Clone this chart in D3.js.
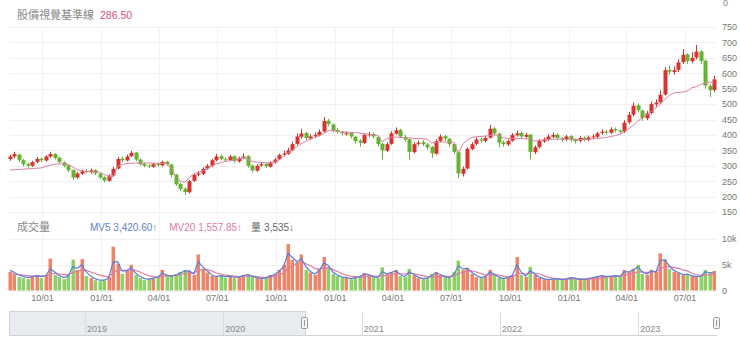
<!DOCTYPE html>
<html>
<head>
<meta charset="utf-8">
<script src="https://cdn.jsdelivr.net/npm/d3@7"></script>
<style>
  body { margin: 0; background: #fff; }
  svg { display: block; font-family: "Liberation Sans", Arial, sans-serif; }
</style>
</head>
<body>
<div id="chart"></div>
<script>
// weekly data, Aug 2020 - Aug 2023
var weeks = d3.timeMonday.range(new Date(2020, 7, 10), new Date(2023, 7, 15));

var open = [322,330,336,318,306,300,312,323,317,330,338,326,311,301,286,262,274,283,279,286,274,263,251,268,291,323,317,331,343,320,
  306,301,297,306,301,313,304,271,241,226,214,251,271,274,291,300,318,331,321,319,331,314,326,331,301,284,301,306,297,311,
  321,336,339,351,371,394,406,389,396,399,411,446,434,416,409,404,406,394,381,374,401,403,394,371,349,371,404,416,394,386,
  344,371,376,369,361,339,381,396,387,371,344,274,291,354,371,386,381,391,421,404,376,369,381,399,406,394,401,344,361,379,
  386,394,401,389,386,396,384,381,391,384,393,394,406,411,407,419,414,411,441,466,496,479,454,471,499,506,531,611,604,611,
  636,661,639,651,671,641,559,546];
var high = [336,345,340,322,310,316,328,327,334,345,341,329,314,304,288,280,288,290,291,289,277,266,272,296,328,330,336,348,345,324,
  310,305,310,310,317,316,306,274,245,230,254,276,282,295,306,322,338,336,327,336,334,330,340,334,304,305,310,310,315,326,
  340,348,358,378,405,420,410,402,408,418,458,452,437,422,414,412,410,397,386,406,410,408,397,374,376,412,424,420,400,388,
  376,382,384,374,364,386,402,400,390,374,346,298,360,376,392,392,398,432,425,407,382,386,406,414,410,406,403,366,386,392,
  402,408,405,394,400,400,389,396,395,398,402,410,418,416,425,424,418,448,475,505,502,482,478,508,515,545,620,625,622,645,
  678,665,668,692,675,645,565,592];
var low = [316,325,312,298,294,296,308,312,313,326,320,306,295,280,254,258,270,275,274,270,256,246,248,265,288,312,314,328,315,300,
  295,292,293,297,298,300,262,234,218,205,210,247,266,270,287,296,314,317,314,316,310,310,322,294,278,280,296,292,294,307,
  318,331,335,347,367,388,383,384,390,395,408,428,408,404,398,398,388,372,362,371,394,388,362,320,345,368,400,390,378,319,
  340,366,364,352,325,336,376,380,362,338,260,265,288,350,366,375,376,388,398,360,362,364,378,394,388,388,320,338,356,374,
  380,389,384,378,380,378,372,376,379,379,387,389,400,401,402,408,403,406,436,460,472,445,448,466,492,500,528,596,595,604,
  630,630,632,645,630,550,523,540];
var close = [330,338,318,305,300,312,322,318,330,338,325,312,300,285,262,275,282,280,285,275,262,252,268,290,322,318,330,342,320,305,
  300,298,305,302,312,305,270,240,225,215,250,270,275,290,300,318,330,322,320,330,315,325,330,300,285,300,305,298,310,320,
  335,340,350,370,395,405,390,395,400,410,445,435,415,410,405,405,395,380,375,400,402,395,370,350,370,405,415,395,385,345,
  370,375,370,360,340,380,395,388,370,345,275,290,355,370,385,382,390,420,405,375,370,380,400,405,395,400,345,360,380,385,
  395,400,390,385,395,385,380,390,385,392,395,405,410,408,418,415,410,440,465,495,480,455,470,500,505,530,610,605,610,635,
  660,640,650,670,640,560,545,580];
// 基準線
var baseline = [286,287,288,289,290,291,292,293,298,302,305,306,306,305,296,287,284,282,281,280,279,272,266,264,298,304,307,308,309,309,
  309,309,308,308,308,307,290,265,250,246,262,274,279,282,290,300,306,310,314,316,318,322,326,320,314,312,311,310,309,312,
  320,330,342,352,362,372,380,386,392,398,405,414,414,412,410,409,408,407,406,404,402,400,399,378,388,393,393,392,391,390,
  389,388,388,387,374,376,377,377,377,376,342,370,384,392,394,395,396,398,400,399,390,389,388,388,388,387,386,380,382,384,
  385,386,386,386,386,386,385,385,385,386,387,388,390,392,395,398,402,410,420,432,445,455,465,476,487,500,515,528,536,538,
  539,542,553,556,564,568,571,572];
// volume (thousand shares)
var volume = [3.6,3.2,2.6,2.4,2.2,2.8,3.0,2.4,3.0,6.2,3.0,2.6,2.2,3.0,6.0,4.0,6.1,2.8,2.4,2.0,
  1.8,2.0,2.6,8.5,5.2,3.2,3.8,5.0,3.0,2.4,2.0,2.2,2.4,2.6,4.0,2.8,2.6,3.2,3.6,4.0,
  3.8,3.0,7.0,4.2,3.5,2.8,2.6,3.0,2.5,2.8,2.4,2.6,3.0,3.2,2.6,2.4,2.2,2.4,3.0,3.2,
  4.0,5.0,9.0,6.0,5.5,7.0,4.0,3.5,3.0,4.2,6.5,4.5,3.2,2.8,2.5,2.4,2.2,2.6,2.8,3.4,
  3.0,2.6,2.4,4.5,3.0,3.6,4.0,2.8,2.6,4.2,3.0,2.4,2.2,2.4,3.2,3.6,3.0,2.6,2.4,3.6,
  5.8,4.0,4.4,3.2,2.6,2.4,2.8,4.0,3.0,2.4,2.2,2.6,3.0,6.5,3.0,2.6,4.6,3.0,2.4,2.2,
  2.0,2.2,2.4,2.0,2.2,2.6,2.4,2.0,2.2,2.4,2.6,2.8,3.0,2.6,2.8,3.0,2.8,4.0,3.6,4.2,
  5.0,3.2,3.0,4.0,3.6,7.2,6.0,4.2,3.6,3.4,3.0,3.2,2.8,2.6,2.8,4.0,3.5,3.8];
var mv5 = [3.9,3.5,3.0,2.7,2.5,2.7,2.9,2.7,2.9,4.2,3.6,2.9,2.5,2.8,4.6,4.3,5.0,3.6,2.8,2.3,
  2.0,2.0,2.4,5.5,5.6,3.8,3.8,4.4,3.4,2.7,2.3,2.2,2.4,2.6,3.4,3.0,2.7,3.0,3.4,3.8,
  3.8,3.2,5.6,4.6,3.8,3.0,2.7,2.9,2.7,2.8,2.6,2.6,2.9,3.1,2.8,2.5,2.3,2.4,2.8,3.1,
  3.7,4.6,7.2,6.4,5.6,6.2,4.6,3.7,3.2,3.9,5.4,4.8,3.6,3.0,2.6,2.5,2.3,2.5,2.7,3.2,
  3.1,2.7,2.5,3.7,3.2,3.5,3.8,3.1,2.7,3.6,3.2,2.6,2.3,2.4,2.9,3.4,3.1,2.7,2.5,3.2,
  4.8,4.2,4.3,3.5,2.9,2.5,2.7,3.6,3.2,2.6,2.3,2.5,2.9,5.0,3.6,2.8,3.9,3.2,2.6,2.3,
  2.1,2.2,2.3,2.1,2.2,2.5,2.4,2.1,2.2,2.3,2.5,2.7,2.9,2.7,2.8,2.9,2.8,3.6,3.6,4.0,
  4.6,3.6,3.2,3.8,3.6,5.8,6.0,4.8,3.9,3.5,3.1,3.2,2.9,2.7,2.8,3.6,3.5,3.4];
var mv20 = [3.2,3.2,3.1,3.0,2.9,2.8,2.8,2.8,2.9,3.2,3.3,3.2,3.1,3.1,3.5,3.7,4.0,3.9,3.6,3.3,
  3.0,2.8,2.7,3.4,3.9,3.9,3.9,4.1,3.9,3.6,3.2,2.9,2.7,2.6,2.8,2.9,2.9,3.0,3.1,3.3,
  3.4,3.4,4.0,4.1,4.0,3.8,3.4,3.2,3.0,2.9,2.8,2.7,2.7,2.8,2.8,2.7,2.6,2.5,2.6,2.7,
  3.0,3.4,4.3,4.8,5.2,5.6,5.2,4.8,4.3,4.1,4.4,4.4,4.1,3.7,3.3,3.0,2.8,2.7,2.6,2.7,
  2.8,2.8,2.7,2.9,3.0,3.1,3.3,3.3,3.2,3.3,3.3,3.1,2.9,2.7,2.6,2.7,2.8,2.8,2.7,2.8,
  3.3,3.5,3.8,3.8,3.6,3.3,3.0,3.1,3.1,3.0,2.8,2.6,2.6,3.2,3.3,3.2,3.4,3.4,3.2,2.9,
  2.6,2.4,2.3,2.2,2.2,2.2,2.3,2.3,2.2,2.2,2.3,2.4,2.5,2.6,2.7,2.7,2.8,3.0,3.1,3.3,
  3.6,3.6,3.5,3.6,3.6,4.2,4.6,4.6,4.5,4.3,4.0,3.8,3.4,3.1,2.9,3.0,3.1,3.2];

var priceTicks = [150,200,250,300,350,400,450,500,550,600,650,700,750];
var volTicks = [0, 5, 10];
var quarterTicks = [new Date(2020,9,1), new Date(2021,0,1), new Date(2021,3,1), new Date(2021,6,1),
  new Date(2021,9,1), new Date(2022,0,1), new Date(2022,3,1), new Date(2022,6,1),
  new Date(2022,9,1), new Date(2023,0,1), new Date(2023,3,1), new Date(2023,6,1)];
var navYears = [new Date(2019,0,1), new Date(2020,0,1), new Date(2021,0,1), new Date(2022,0,1), new Date(2023,0,1)];

var width = 740, height = 353;
var upColor = "#d5352e", downColor = "#66b232";
var upVol = "#f08468", downVol = "#8dd065";

var svg = d3.select("#chart").append("svg")
    .attr("width", width)
    .attr("height", height);

var mid = function(d) { return d3.timeDay.offset(d, 2); };

var x = d3.scaleTime()
    .domain([new Date(2020,7,9), new Date(2023,7,19)])
    .range([8, 716]);

var y = d3.scaleLinear()
    .domain([150, 750])
    .range([212, 27]);

var yv = d3.scaleLinear()
    .domain([0, 10])
    .range([290.5, 239]);

// gridlines
svg.append("g").selectAll("line")
  .data(priceTicks)
  .enter().append("line")
    .attr("x1", 10).attr("x2", 716)
    .attr("y1", function(d) { return Math.round(y(d)) + 0.5; })
    .attr("y2", function(d) { return Math.round(y(d)) + 0.5; })
    .attr("stroke", "#f0f0f0");
svg.append("g").selectAll("line")
  .data(volTicks)
  .enter().append("line")
    .attr("x1", 10).attr("x2", 716)
    .attr("y1", function(d) { return Math.round(yv(d)) + 0.5; })
    .attr("y2", function(d) { return Math.round(yv(d)) + 0.5; })
    .attr("stroke", "#f0f0f0");
svg.append("g").selectAll("line")
  .data(quarterTicks)
  .enter().append("line")
    .attr("x1", function(d) { return Math.round(x(d)) + 0.5; })
    .attr("x2", function(d) { return Math.round(x(d)) + 0.5; })
    .attr("y1", 27).attr("y2", 291)
    .attr("stroke", "#f3f3f3");

// candles
var idx = d3.range(weeks.length);
var candles = svg.append("g");
candles.selectAll("line")
  .data(idx)
  .enter().append("line")
    .attr("x1", function(i) { return Math.round(x(mid(weeks[i]))) + 0.5; })
    .attr("x2", function(i) { return Math.round(x(mid(weeks[i]))) + 0.5; })
    .attr("y1", function(i) { return y(high[i]); })
    .attr("y2", function(i) { return y(low[i]); })
    .attr("stroke", function(i) { return close[i] >= open[i] ? upColor : downColor; });
candles.selectAll("rect")
  .data(idx)
  .enter().append("rect")
    .attr("x", function(i) { return Math.round(x(mid(weeks[i]))) - 1.5; })
    .attr("width", 4)
    .attr("y", function(i) { return y(Math.max(open[i], close[i])); })
    .attr("height", function(i) { return Math.max(1, Math.abs(y(open[i]) - y(close[i]))); })
    .attr("fill", function(i) { return close[i] >= open[i] ? upColor : downColor; });

// baseline
svg.append("path")
  .datum(idx)
  .attr("fill", "none")
  .attr("stroke", "#dc7fa3")
  .attr("stroke-width", 1)
  .attr("d", d3.line()
    .x(function(i) { return x(mid(weeks[i])); })
    .y(function(i) { return y(baseline[i]); }));

// volume
svg.append("g").selectAll("rect")
  .data(idx)
  .enter().append("rect")
    .attr("x", function(i) { return Math.round(x(mid(weeks[i]))) - 1.5; })
    .attr("width", 3.5)
    .attr("y", function(i) { return yv(volume[i]); })
    .attr("height", function(i) { return yv(0) - yv(volume[i]); })
    .attr("fill", function(i) { return close[i] >= open[i] ? upVol : downVol; });

svg.append("path")
  .datum(idx)
  .attr("fill", "none")
  .attr("stroke", "#e07aa6")
  .attr("stroke-width", 1.2)
  .attr("d", d3.line()
    .x(function(i) { return x(mid(weeks[i])); })
    .y(function(i) { return yv(mv20[i]); }));
svg.append("path")
  .datum(idx)
  .attr("fill", "none")
  .attr("stroke", "#5b7fd8")
  .attr("stroke-width", 1.2)
  .attr("d", d3.line()
    .x(function(i) { return x(mid(weeks[i])); })
    .y(function(i) { return yv(mv5[i]); }));

// axes
var priceAxis = svg.append("g")
  .attr("transform", "translate(718,0)")
  .call(d3.axisRight(y).tickValues(priceTicks).tickSize(0).tickPadding(4));
var volAxis = svg.append("g")
  .attr("transform", "translate(718,0)")
  .call(d3.axisRight(yv).tickValues(volTicks).tickSize(0).tickPadding(4)
    .tickFormat(function(d) { return d === 0 ? "0" : d + "k"; }));
var dateAxis = svg.append("g")
  .attr("transform", "translate(0,293)")
  .call(d3.axisBottom(x).tickValues(quarterTicks).tickSize(0).tickPadding(2)
    .tickFormat(d3.timeFormat("%m/%d")));
[priceAxis, volAxis, dateAxis].forEach(function(g) {
  g.select(".domain").remove();
  g.selectAll("text").attr("fill", "#777").style("font-size", "9px");
});

// headers
var cjk = "'Noto Sans CJK TC', 'Noto Sans', sans-serif";
svg.append("text").attr("x", 17).attr("y", 19).text("股價視覺基準線")
  .attr("fill", "#888").style("font-size", "11px").style("font-family", cjk);
svg.append("text").attr("x", 100).attr("y", 19).text("286.50")
  .attr("fill", "#d24f86").style("font-size", "10.5px");
svg.append("text").attr("x", 723).attr("y", 6).text("0")
  .attr("fill", "#888").style("font-size", "9px");

svg.append("text").attr("x", 17).attr("y", 231).text("成交量")
  .attr("fill", "#888").style("font-size", "11px").style("font-family", cjk);
var leg = svg.append("text").attr("x", 90).attr("y", 231).style("font-size", "10px");
leg.append("tspan").attr("fill", "#5b7fd8").text("MV5 3,420.60↑");
leg.append("tspan").attr("fill", "#e07aa6").attr("dx", 12).text("MV20 1,557.85↑");
leg.append("tspan").attr("fill", "#666").attr("dx", 9).style("font-family", cjk).text("量");
leg.append("tspan").attr("fill", "#666").attr("dx", 3).text("3,535↓");

// navigator
var nx = d3.scaleTime()
    .domain([new Date(2018,5,14), new Date(2023,6,28)])
    .range([9, 717]);
var handleL = 305, handleR = 717;
svg.append("rect")
  .attr("x", 9.5).attr("y", 311.5)
  .attr("width", handleL - 9).attr("height", 24)
  .attr("fill", "#e8ecf0").attr("stroke", "#cfd3d8");
svg.append("line")
  .attr("x1", 9).attr("x2", handleR).attr("y1", 335.5).attr("y2", 335.5)
  .attr("stroke", "#cfd3d8");
var yrs = svg.append("g").selectAll("g")
  .data(navYears)
  .enter().append("g");
yrs.append("line")
  .attr("x1", function(d) { return Math.round(nx(d)) + 0.5; })
  .attr("x2", function(d) { return Math.round(nx(d)) + 0.5; })
  .attr("y1", 312).attr("y2", 335)
  .attr("stroke", "#dcdcdc");
yrs.append("text")
  .attr("x", function(d) { return nx(d) + 2; })
  .attr("y", 332)
  .text(function(d) { return d.getFullYear(); })
  .attr("fill", "#888").style("font-size", "9px");
[handleL, handleR].forEach(function(hx) {
  svg.append("rect")
    .attr("x", hx - 3.5).attr("y", 317.5).attr("width", 6).attr("height", 11).attr("rx", 1)
    .attr("fill", "#f4f4f4").attr("stroke", "#999");
  svg.append("line")
    .attr("x1", hx - 0.5).attr("x2", hx - 0.5).attr("y1", 320).attr("y2", 326)
    .attr("stroke", "#999");
});
</script>
</body>
</html>
